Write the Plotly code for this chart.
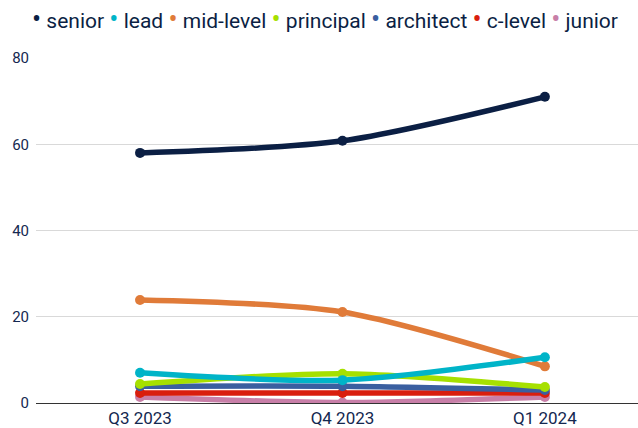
import plotly.graph_objects as go

quarters = ["Q3 2023", "Q4 2023", "Q1 2024"]

series_names = ["senior", "lead", "mid-level", "principal", "architect", "c-level", "junior"]
senior = [58.0, 60.8, 71.0]
lead = [7.0, 5.3, 10.6]
mid_level = [23.9, 21.1, 8.5]
principal = [4.4, 6.8, 3.7]
architect = [3.9, 3.9, 3.0]
c_level = [2.3, 2.3, 2.3]
junior = [1.4, 0.1, 1.4]

colors = ["#0b1f44", "#00b4c8", "#e07b39", "#a6e000", "#3a5fa0", "#d91e0e", "#c87fa8"]


def main():
    values = [senior, lead, mid_level, principal, architect, c_level, junior]
    fig = go.Figure()

    # lines drawn back to front so senior ends on top
    for name, vals, color in reversed(list(zip(series_names, values, colors))):
        fig.add_trace(
            go.Scatter(
                x=quarters,
                y=vals,
                mode="lines+markers",
                line=dict(color=color, width=5.5, shape="spline", smoothing=0.8),
                marker=dict(color=color, size=10),
                showlegend=False,
                name=name,
            )
        )

    # compact legend: coloured bullet + name
    legend_text = " ".join(
        f"<span style='color:{c};font-size:27px'>•</span> {n}"
        for n, c in zip(series_names, colors)
    )
    fig.add_annotation(
        text=legend_text,
        xref="paper",
        yref="paper",
        x=0.48,
        y=1.113,
        xanchor="center",
        yanchor="middle",
        showarrow=False,
        font=dict(size=21, color="#0b1f44"),
    )

    fig.update_layout(
        width=638,
        height=428,
        margin=dict(l=36, r=0, t=58, b=25),
        plot_bgcolor="white",
        paper_bgcolor="white",
        font=dict(family="Roboto", color="#142850", size=15),
        showlegend=False,
    )
    fig.update_xaxes(
        range=[-0.514, 2.46],
        showline=True,
        linecolor="#333333",
        linewidth=1,
        showgrid=False,
        ticks="",
        tickfont=dict(size=17),
    )
    fig.update_yaxes(
        range=[0, 80],
        tickvals=[0, 20, 40, 60, 80],
        showgrid=True,
        gridcolor="#d9d9d9",
        zeroline=False,
        ticks="",
        ticklabelstandoff=6,
        tickfont=dict(size=15),
    )
    fig.write_html(
        "out.html",
        config={"displayModeBar": False},
        post_script="document.body.style.margin='0';",
    )


if __name__ == "__main__":
    main()
